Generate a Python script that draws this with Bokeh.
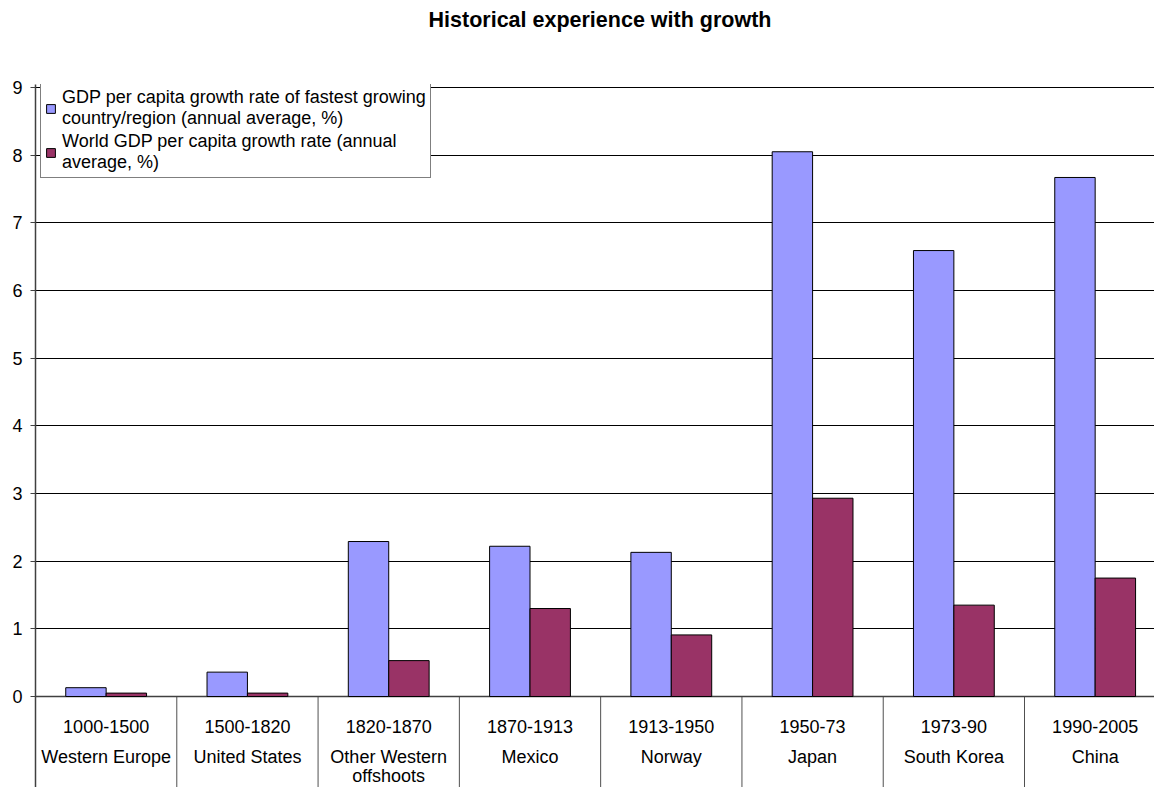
import numpy as np
from bokeh.plotting import figure
from bokeh.layouts import column
from bokeh.models import FixedTicker, Legend, LegendItem, Range1d, Div
from bokeh.core.properties import value
from bokeh.embed import file_html
from bokeh.resources import INLINE

periods = ["1000-1500", "1500-1820", "1820-1870", "1870-1913",
           "1913-1950", "1950-73", "1973-90", "1990-2005"]
regions = ["Western Europe", "United States", "Other Western\noffshoots", "Mexico",
           "Norway", "Japan", "South Korea", "China"]
fastest = [0.13, 0.36, 2.29, 2.22, 2.13, 8.05, 6.59, 7.67]
world = [0.05, 0.05, 0.53, 1.30, 0.91, 2.93, 1.35, 1.75]
y_ticks = [0, 1, 2, 3, 4, 5, 6, 7, 8, 9]
title_text = "Historical experience with growth"
label_fastest = "GDP per capita growth rate of fastest growing\ncountry/region (annual average, %)"
label_world = "World GDP per capita growth rate (annual\naverage, %)"

FONT = "Liberation Sans"
n = len(periods)
idx = np.arange(n)
bottom = -1.345
top = 9.044
x_end = 7.42
bw = 0.286

title_div = Div(text=title_text, width=1154, height=40, margin=0,
                styles={"font-family": "'Liberation Sans', Arial, sans-serif",
                        "font-size": "21.5px", "font-weight": "bold", "color": "black",
                        "text-align": "center", "line-height": "40px",
                        "padding-left": "46px", "box-sizing": "border-box"})

p = figure(width=1154, height=747, output_backend="svg", toolbar_location=None,
           x_range=Range1d(-0.5, x_end), y_range=Range1d(bottom, top),
           x_axis_location=None, min_border_left=35, min_border_right=0,
           min_border_top=44, min_border_bottom=0, margin=0)
p.outline_line_color = None
p.background_fill_color = "white"
p.border_fill_color = "white"

ax = p.yaxis[0]
ax.ticker = FixedTicker(ticks=y_ticks)
ax.major_label_text_font = FONT
ax.major_label_text_font_size = "18px"
ax.major_label_text_color = "black"
ax.axis_line_color = "#404040"
ax.axis_line_width = 1.5
ax.major_tick_line_color = "#404040"
ax.major_tick_out = 5
ax.major_tick_in = 0
ax.minor_tick_line_color = None
ax.major_label_standoff = 8

p.xgrid.visible = False
p.ygrid.ticker = FixedTicker(ticks=y_ticks)
p.ygrid.grid_line_color = "black"
p.ygrid.grid_line_width = 1

# category dividers below the axis
p.segment(x0=idx - 0.5, y0=0, x1=idx - 0.5, y1=bottom, line_color="#505050", line_width=1)
p.segment(x0=[-0.5], y0=[0], x1=[x_end], y1=[0], line_color="#404040", line_width=1.5)

r1 = p.vbar(x=idx - bw / 2, top=fastest, width=bw, bottom=0,
            fill_color="#9999FF", line_color="black", line_width=1)
r2 = p.vbar(x=idx + bw / 2, top=world, width=bw, bottom=0,
            fill_color="#993366", line_color="black", line_width=1)

p.text(x=idx, y=-0.443, text=periods, text_align="center", text_baseline="middle",
       text_font=value(FONT), text_font_size="18px", text_color="black")
p.text(x=idx, y=-0.75, text=regions, text_align="center", text_baseline="top",
       text_font=value(FONT), text_font_size="18px", text_color="black",
       text_line_height=0.96)

legend = Legend(items=[LegendItem(label=label_fastest, renderers=[r1]),
                       LegendItem(label=label_world, renderers=[r2])],
                location=(5, 609))
legend.label_text_font = FONT
legend.label_text_font_size = "18px"
legend.label_text_color = "black"
legend.label_text_line_height = 1.36
legend.glyph_width = 11
legend.glyph_height = 11
legend.label_standoff = 6
legend.padding = 4
legend.spacing = 2
legend.margin = 0
legend.border_line_color = "black"
legend.border_line_width = 1
legend.background_fill_color = "white"
legend.background_fill_alpha = 1
p.add_layout(legend)

layout = column(title_div, p, spacing=0)
open("out.html", "w").write(file_html(layout, INLINE))
